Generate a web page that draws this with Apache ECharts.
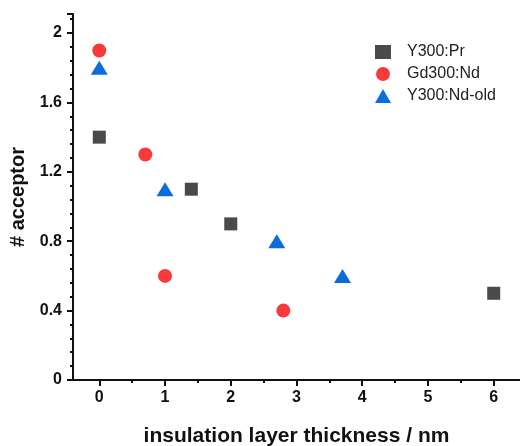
<!DOCTYPE html>
<html>
<head>
<meta charset="utf-8">
<script src="https://cdn.jsdelivr.net/npm/echarts@6/dist/echarts.min.js"></script>
<style>
  html, body { margin: 0; padding: 0; background: #fff; }
  #chart { width: 520px; height: 446px; }
</style>
</head>
<body>
<div id="chart"></div>
<script>
// Acceptor count versus insulation layer thickness for three sample sets
const seriesNames = ['Y300:Pr', 'Gd300:Nd', 'Y300:Nd-old'];

const prThickness = [0, 1.4, 2, 6];
const prAcceptor  = [1.4, 1.1, 0.9, 0.5];

const gdThickness = [0, 0.7, 1, 2.8];
const gdAcceptor  = [1.9, 1.3, 0.6, 0.4];

const ndThickness = [0, 1, 2.7, 3.7];
const ndAcceptor  = [1.8, 1.1, 0.8, 0.6];

// x tick positions: labelled majors and unlabelled half-way minors
const xMajorTicks = [0, 1, 2, 3, 4, 5, 6];
const xMinorTicks = [0.5, 1.5, 2.5, 3.5, 4.5, 5.5];

const pairs = (xs, ys) => xs.map((x, i) => [x, ys[i]]);

const chart = echarts.init(document.getElementById('chart'), null, { renderer: 'canvas' });

const FONT = 'Liberation Sans, Arial, sans-serif';
const boldText = { fontFamily: FONT, fontWeight: 'bold', color: '#111' };
const axisStroke = { color: '#111', width: 2 };

chart.setOption({
  animation: false,
  backgroundColor: '#fff',
  grid: { left: 73, right: 0, top: 14, bottom: 66, containLabel: false, outerBoundsMode: 'none' },
  legend: {
    orient: 'vertical',
    left: 370,
    top: 39,
    itemWidth: 16,
    itemHeight: 14,
    itemGap: 6,
    textStyle: { fontFamily: FONT, fontSize: 16, color: '#222', padding: [0, 0, 0, 11] },
    data: seriesNames
  },
  xAxis: [
    {
      type: 'value',
      min: -0.4,
      max: 6.4,
      name: 'insulation layer thickness / nm',
      nameLocation: 'middle',
      nameGap: 46,
      nameTextStyle: Object.assign({ fontSize: 21 }, boldText),
      axisLine: { onZero: false, lineStyle: axisStroke },
      axisTick: { show: true, inside: false, length: 6, lineStyle: axisStroke, customValues: xMajorTicks },
      axisLabel: Object.assign({ fontSize: 16, margin: 10, customValues: xMajorTicks }, boldText),
      splitLine: { show: false }
    },
    {
      type: 'value',
      min: -0.4,
      max: 6.4,
      position: 'bottom',
      axisLine: { show: false, onZero: false },
      axisTick: { show: true, inside: false, length: 3, lineStyle: axisStroke, customValues: xMinorTicks },
      axisLabel: { show: false },
      splitLine: { show: false }
    }
  ],
  yAxis: {
    type: 'value',
    min: 0,
    max: 2.11,
    interval: 0.4,
    name: '# acceptor',
    nameLocation: 'middle',
    nameGap: 43,
    nameTextStyle: Object.assign({ fontSize: 20 }, boldText),
    axisLine: { show: true, onZero: false, lineStyle: axisStroke },
    axisTick: { show: true, inside: false, length: 6, lineStyle: axisStroke },
    minorTick: { show: true, splitNumber: 5, length: 3, lineStyle: axisStroke },
    axisLabel: Object.assign({ fontSize: 16, margin: 11, showMaxLabel: false }, boldText),
    splitLine: { show: false },
    minorSplitLine: { show: false }
  },
  series: [
    {
      name: seriesNames[0],
      type: 'scatter',
      symbol: 'rect',
      symbolSize: 13,
      itemStyle: { color: '#4a4a4a', opacity: 1 },
      data: pairs(prThickness, prAcceptor)
    },
    {
      name: seriesNames[1],
      type: 'scatter',
      symbol: 'circle',
      symbolSize: 14,
      itemStyle: { color: '#f93a3a', opacity: 1 },
      data: pairs(gdThickness, gdAcceptor)
    },
    {
      name: seriesNames[2],
      type: 'scatter',
      symbol: 'triangle',
      symbolSize: [17, 14],
      itemStyle: { color: '#0c6cdc', opacity: 1 },
      data: pairs(ndThickness, ndAcceptor)
    }
  ]
});
</script>
</body>
</html>
